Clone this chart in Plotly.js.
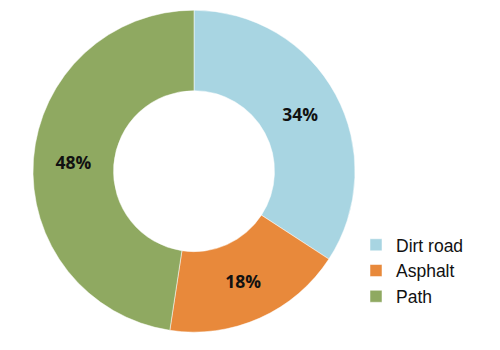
<!DOCTYPE html>
<html>
<head>
<meta charset="utf-8">
<script src="https://cdn.plot.ly/plotly-3.0.1.min.js"></script>
<style>html,body{margin:0;padding:0;background:#fff;}#chart{width:500px;height:350px;}</style>
</head>
<body>
<div id="chart"></div>
<script>
const categories = ["Dirt road", "Asphalt", "Path"];
const shares = [34.2, 18.2, 47.6];
const sliceColors = ["#A8D5E2", "#E8893B", "#8FA961"];

const trace = {
  type: "pie",
  labels: categories,
  values: shares,
  hole: 0.5,
  sort: false,
  direction: "clockwise",
  rotation: 0,
  textinfo: "percent",
  texttemplate: "%{percent:.0%}",
  textposition: "inside",
  insidetextorientation: "horizontal",
  textfont: {family: "Open Sans, Arial, sans-serif", size: 17.5, color: "#111", weight: "bold"},
  marker: {colors: sliceColors, line: {color: "#ffffff", width: 0.5}},
  domain: {x: [0.066, 0.71], y: [0.051, 0.971]},
  hoverinfo: "none"
};

const layout = {
  width: 500,
  height: 350,
  margin: {l: 0, r: 0, t: 0, b: 0},
  paper_bgcolor: "#ffffff",
  showlegend: true,
  legend: {
    x: 0.712, y: 0.226, xanchor: "left", yanchor: "middle",
    font: {family: "Liberation Sans, Arial, sans-serif", size: 17.5, color: "#111"},
    itemwidth: 30,
    tracegroupgap: 0
  }
};

Plotly.newPlot("chart", [trace], layout, {staticPlot: true, displayModeBar: false});
</script>
</body>
</html>
